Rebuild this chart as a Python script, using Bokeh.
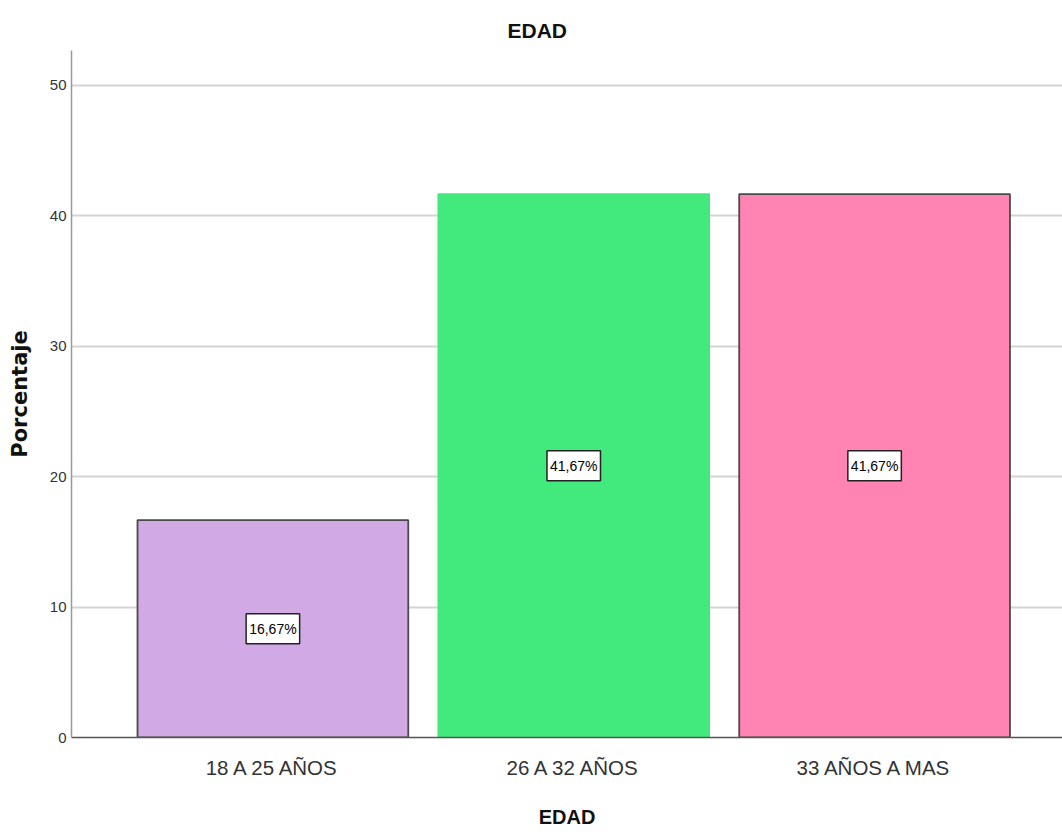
from bokeh.plotting import figure
from bokeh.models import ColumnDataSource, Range1d, FixedTicker, Title
from bokeh.core.properties import value
from bokeh.embed import file_html
from bokeh.resources import INLINE

categories = ["18 A 25 AÑOS", "26 A 32 AÑOS", "33 AÑOS A MAS"]
percentages = [16.67, 41.67, 41.67]
y_ticks = [0, 10, 20, 30, 40, 50]

fill_colors = ["#D1A9E4", "#42E97D", "#FF83B3"]
line_colors = ["#4a4a4a", "#42E97D", "#4a4a4a"]

SANS = "Liberation Sans"

positions = list(range(1, len(categories) + 1))
source = ColumnDataSource(dict(
    x=positions,
    top=percentages,
    mid=[v / 2 for v in percentages],
    label=[f"{v:.2f}".replace(".", ",") + "%" for v in percentages],
    fill=fill_colors,
    line=line_colors,
))

p = figure(width=1062, height=832, output_backend="svg", toolbar_location=None,
           x_range=Range1d(0.3306, 3.6246), y_range=Range1d(0, 52.68),
           min_border_left=71, min_border_right=0, min_border_top=50, min_border_bottom=95)
p.outline_line_color = None
p.background_fill_color = "white"
p.border_fill_color = "white"

title = Title(text="EDAD", align="left", offset=436, text_font=SANS,
              text_font_size="21px", text_font_style="bold", text_color="#111111",
              standoff=18)
p.add_layout(title, "above")

p.vbar(x="x", top="top", width=0.9, bottom=0, source=source,
       fill_color="fill", line_color="line", line_width=1.8)

p.text(x="x", y="mid", text="label", source=source,
       text_align="center", text_baseline="middle",
       text_font=value(SANS), text_font_size="14px", text_color="black",
       background_fill_color="white", border_line_color="#222222",
       border_line_width=1.5, padding=[3, 7])

# x axis
p.xaxis.ticker = FixedTicker(ticks=positions)
p.xaxis.major_label_overrides = {pos: cat for pos, cat in zip(positions, categories)}
p.xaxis.major_tick_line_color = None
p.xaxis.major_tick_out = 0
p.xaxis.major_tick_in = 0
p.xaxis.minor_tick_line_color = None
p.xaxis.minor_tick_out = 0
p.xaxis.major_label_text_font = SANS
p.xaxis.major_label_text_font_size = "20.5px"
p.xaxis.major_label_text_color = "#333333"
p.xaxis.major_label_standoff = 18
p.xaxis.axis_line_color = "#555555"
p.xaxis.axis_line_width = 1.5
p.xaxis.axis_label = "EDAD"
p.xaxis.axis_label_text_font = SANS
p.xaxis.axis_label_text_font_size = "20px"
p.xaxis.axis_label_text_font_style = "bold"
p.xaxis.axis_label_text_color = "#111111"
p.xaxis.axis_label_standoff = 24
p.xgrid.grid_line_color = None

# y axis
p.yaxis.ticker = FixedTicker(ticks=y_ticks)
p.yaxis.major_tick_line_color = None
p.yaxis.major_tick_out = 0
p.yaxis.major_tick_in = 0
p.yaxis.minor_tick_line_color = None
p.yaxis.minor_tick_out = 0
p.yaxis.major_label_text_font = SANS
p.yaxis.major_label_text_font_size = "15px"
p.yaxis.major_label_text_color = "#333333"
p.yaxis.major_label_standoff = 5
p.yaxis.axis_line_color = "#999999"
p.yaxis.axis_line_width = 1.5
p.yaxis.axis_label = "Porcentaje"
p.yaxis.axis_label_text_font = "DejaVu Sans"
p.yaxis.axis_label_text_font_size = "21px"
p.yaxis.axis_label_text_font_style = "bold"
p.yaxis.axis_label_text_color = "#111111"
p.yaxis.axis_label_standoff = 15
p.ygrid.grid_line_color = "#d4d4d4"
p.ygrid.grid_line_width = 2

open("out.html", "w").write(file_html(p, INLINE))
